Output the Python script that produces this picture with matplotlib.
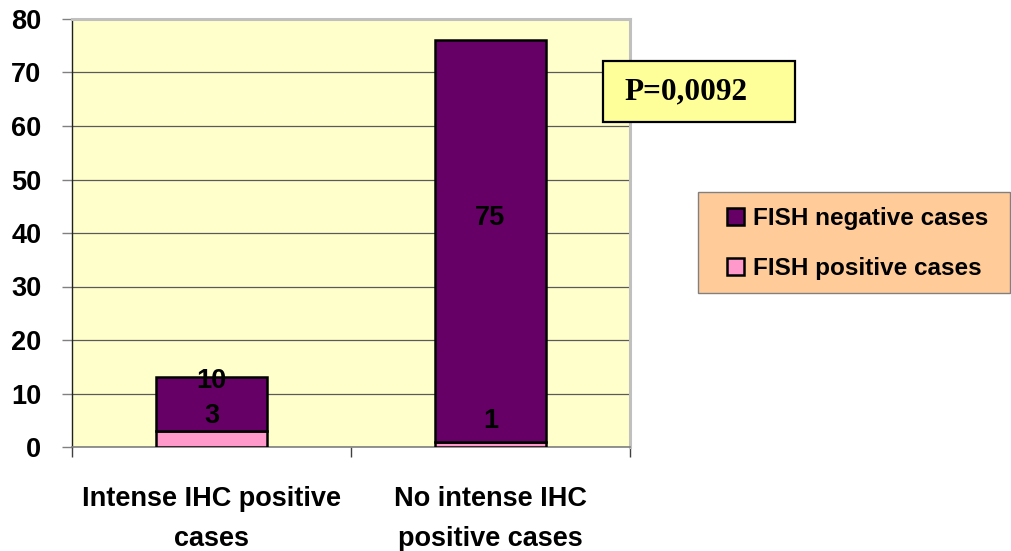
import matplotlib
matplotlib.use("Agg")
import matplotlib.pyplot as plt
from matplotlib.patches import Rectangle
import numpy as np

categories = ["Intense IHC positive\ncases", "No intense IHC\npositive cases"]
fish_positive = [3, 1]
fish_negative = [10, 75]
series_names = ["FISH negative cases", "FISH positive cases"]
p_text = "P=0,0092"
yticks = [0, 10, 20, 30, 40, 50, 60, 70, 80]

PURPLE = "#660066"
PINK = "#FF99CC"
BG = "#FFFFCC"

plt.rcParams["font.family"] = ["Liberation Sans", "DejaVu Sans"]
plt.rcParams["font.weight"] = "bold"

FS = 19.5

fig = plt.figure(figsize=(10.12, 5.51), dpi=100)
W, H = 1012, 551
ax = fig.add_axes([72 / W, 1 - 447 / H, (630 - 72) / W, (447 - 19) / H])
ax.set_facecolor(BG)

x = np.arange(len(categories))
width = 0.4
b1 = ax.bar(x, fish_positive, width, color=PINK, edgecolor="black", linewidth=1.8,
            label=series_names[1], zorder=3)
b2 = ax.bar(x, fish_negative, width, bottom=fish_positive, color=PURPLE,
            edgecolor="black", linewidth=1.8, label=series_names[0], zorder=3)

ax.set_xlim(-0.5, len(categories) - 0.5)
ax.set_ylim(0, 80)
ax.set_yticks(yticks)
ax.set_yticklabels([str(v) for v in yticks], fontsize=FS, fontweight="bold")
ax.yaxis.grid(True, color="#5a5a5a", linewidth=0.9, zorder=0)
ax.set_axisbelow(True)

ax.set_xticks(x)
ax.set_xticklabels(categories, fontsize=FS, fontweight="bold")
for t in ax.get_xticklabels():
    t.set_linespacing(1.72)
ax.set_xticks(np.arange(-0.5, len(categories)), minor=True)
ax.tick_params(axis="x", which="major", length=0, pad=28)
ax.tick_params(axis="x", which="minor", length=7, color="#404040", width=1)
ax.tick_params(axis="y", length=7, color="#808080", width=1, pad=15)

for s in ["top", "right"]:
    ax.spines[s].set_color("#C0C0C0")
    ax.spines[s].set_linewidth(2.2)
ax.spines["left"].set_color("#202020")
ax.spines["left"].set_linewidth(1.0)
ax.spines["bottom"].set_color("#808080")
ax.spines["bottom"].set_linewidth(1.2)

# data labels
off = 4.3
for i in range(len(categories)):
    ax.text(x[i], fish_positive[i] / 2 + off, str(fish_positive[i]), ha="center",
            va="center", fontsize=FS, fontweight="bold", color="black", zorder=5)
    ax.text(x[i], fish_positive[i] + fish_negative[i] / 2 + off, str(fish_negative[i]),
            ha="center", va="center", fontsize=FS, fontweight="bold", color="black", zorder=5)

# P value box
fig.patches.append(Rectangle((603 / W, 1 - 122 / H), (795 - 603) / W, (122 - 61) / H,
                             transform=fig.transFigure, facecolor="#FFFF99",
                             edgecolor="black", linewidth=1.6, zorder=10))
fig.text(624 / W, 1 - 92 / H, p_text, family=["Liberation Serif"], fontweight="bold",
         fontsize=22.5, va="center", ha="left", zorder=11)

# legend frame + legend
fig.patches.append(Rectangle((698 / W, 1 - 293 / H), (1010 - 698) / W, (293 - 192) / H,
                             transform=fig.transFigure, facecolor="#FFCC99",
                             edgecolor="#808080", linewidth=1.0, zorder=1))
leg = fig.legend([b2, b1], series_names, loc="center left",
                 bbox_to_anchor=(727 / W, 1 - 243.5 / H),
                 frameon=False, prop={"size": 17.5, "weight": "bold"},
                 handlelength=0.72, handleheight=0.72, handletextpad=0.33,
                 labelspacing=1.13, borderpad=0, borderaxespad=0)
for h in leg.legend_handles:
    h.set_edgecolor("black")
    h.set_linewidth(1.8)

fig.savefig("out.png", dpi=100)
